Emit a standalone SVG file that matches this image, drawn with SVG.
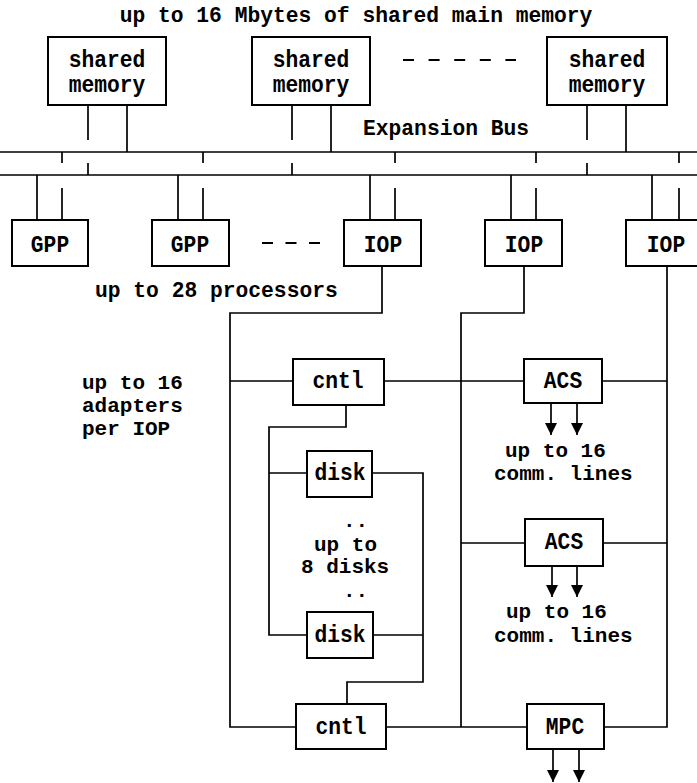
<svg xmlns="http://www.w3.org/2000/svg" width="697" height="783" viewBox="0 0 697 783">
<style>
.b{fill:#fff;stroke:#000;stroke-width:2}
.l{fill:none;stroke:#000;stroke-width:1.7}
.d{fill:none;stroke:#000;stroke-width:2}
.t{font-family:"Liberation Mono","Courier New",monospace;font-size:21.3px;font-weight:bold;fill:#000}
.s{font-size:21px}
.m{text-anchor:middle}
</style>
<defs>
<marker id="ah" markerUnits="userSpaceOnUse" markerWidth="12" markerHeight="12" refX="12" refY="6" orient="auto" viewBox="0 0 12 12"><path d="M0,0 L12,6 L0,12 z" fill="#000"/></marker>
</defs>
<rect width="697" height="783" fill="#fff"/>
<g id="connectors">
<path class="l" d="M0 152H697M0 175H697"/>
<path class="l" d="M88 105V140M88 163V175M127 105V152M292 105V140M292 163V175M331 105V152M587 105V140M587 163V175M626 105V152"/>
<path class="l" d="M37 175V220M62 152V163M62 188V220M178 175V220M203 152V163M203 188V220M370 175V220M395 152V163M395 188V220M511 175V220M536 152V163M536 188V220M652 175V220M679 152V163M679 188V220"/>
<path class="d" d="M403 60H516" stroke-dasharray="11 14.6"/>
<path class="d" d="M262 243H320" stroke-dasharray="11 12.5"/>
<path class="l" d="M382 266V313H230V727H296M230 381H293M384 381H524M524 266V313H461V727M386 727H527M602 381H667M667 266V727H604M461 543H525M603 543H667"/>
<path class="l" d="M346 405V427H269V635H307M269 473H307M372 473H423V682H347V704M373 635H423"/>
<path class="l" marker-end="url(#ah)" d="M551 403V435"/>
<path class="l" marker-end="url(#ah)" d="M577 403V435"/>
<path class="l" marker-end="url(#ah)" d="M552 566V597"/>
<path class="l" marker-end="url(#ah)" d="M577 566V597"/>
<path class="l" marker-end="url(#ah)" d="M553 749V782"/>
<path class="l" marker-end="url(#ah)" d="M579 749V782"/>
</g>
<g id="labels">
<text class="t m" transform="translate(356 22) scale(1 1.05)">up to 16 Mbytes of shared main memory</text>
<text class="t" transform="translate(363 135) scale(1 1.05)">Expansion Bus</text>
<text class="t" transform="translate(95 297) scale(1 1.05)">up to 28 processors</text>
<text class="t s" x="82" y="389">up to 16</text>
<text class="t s" x="82" y="412">adapters</text>
<text class="t s" x="82" y="435">per IOP</text>
<text class="t s" x="505" y="457">up to 16</text>
<text class="t s" x="494" y="480">comm. lines</text>
<text class="t s" x="506" y="618">up to 16</text>
<text class="t s" x="494" y="642">comm. lines</text>
<text class="t s" x="343" y="527">..</text>
<text class="t s" x="314" y="551">up to</text>
<text class="t s" x="301" y="573">8 disks</text>
<text class="t s" x="343" y="597">..</text>
</g>
<g id="mem1"><rect class="b" x="48" y="37" width="118" height="68"/><text class="t m" transform="translate(107 67) scale(1 1.12)">shared</text><text class="t m" transform="translate(107 92) scale(1 1.12)">memory</text></g>
<g id="mem2"><rect class="b" x="252" y="37" width="118" height="68"/><text class="t m" transform="translate(311 67) scale(1 1.12)">shared</text><text class="t m" transform="translate(311 92) scale(1 1.12)">memory</text></g>
<g id="mem3"><rect class="b" x="547" y="37" width="120" height="68"/><text class="t m" transform="translate(607 67) scale(1 1.12)">shared</text><text class="t m" transform="translate(607 92) scale(1 1.12)">memory</text></g>
<g id="gpp1"><rect class="b" x="12" y="220" width="76" height="46"/><text class="t m" transform="translate(50 252) scale(1 1.15)">GPP</text></g>
<g id="gpp2"><rect class="b" x="152" y="220" width="77" height="46"/><text class="t m" transform="translate(190 252) scale(1 1.15)">GPP</text></g>
<g id="iop1"><rect class="b" x="344" y="220" width="77" height="46"/><text class="t m" transform="translate(383 252) scale(1 1.15)">IOP</text></g>
<g id="iop2"><rect class="b" x="485" y="220" width="77" height="46"/><text class="t m" transform="translate(524 252) scale(1 1.15)">IOP</text></g>
<g id="iop3"><rect class="b" x="626" y="220" width="80" height="46"/><text class="t m" transform="translate(666 252) scale(1 1.15)">IOP</text></g>
<g id="cntl1"><rect class="b" x="293" y="359" width="91" height="46"/><text class="t m" transform="translate(338 388) scale(1 1.15)">cntl</text></g>
<g id="acs1"><rect class="b" x="524" y="359" width="78" height="44"/><text class="t m" transform="translate(563 388) scale(1 1.15)">ACS</text></g>
<g id="disk1"><rect class="b" x="307" y="451" width="65" height="46"/><text class="t m" transform="translate(340 480) scale(1 1.15)">disk</text></g>
<g id="acs2"><rect class="b" x="525" y="519" width="78" height="47"/><text class="t m" transform="translate(564 549) scale(1 1.15)">ACS</text></g>
<g id="disk2"><rect class="b" x="307" y="612" width="66" height="46"/><text class="t m" transform="translate(340 642) scale(1 1.15)">disk</text></g>
<g id="cntl2"><rect class="b" x="296" y="704" width="90" height="45"/><text class="t m" transform="translate(341 734) scale(1 1.15)">cntl</text></g>
<g id="mpc"><rect class="b" x="527" y="704" width="77" height="45"/><text class="t m" transform="translate(565 734) scale(1 1.15)">MPC</text></g>
</svg>
